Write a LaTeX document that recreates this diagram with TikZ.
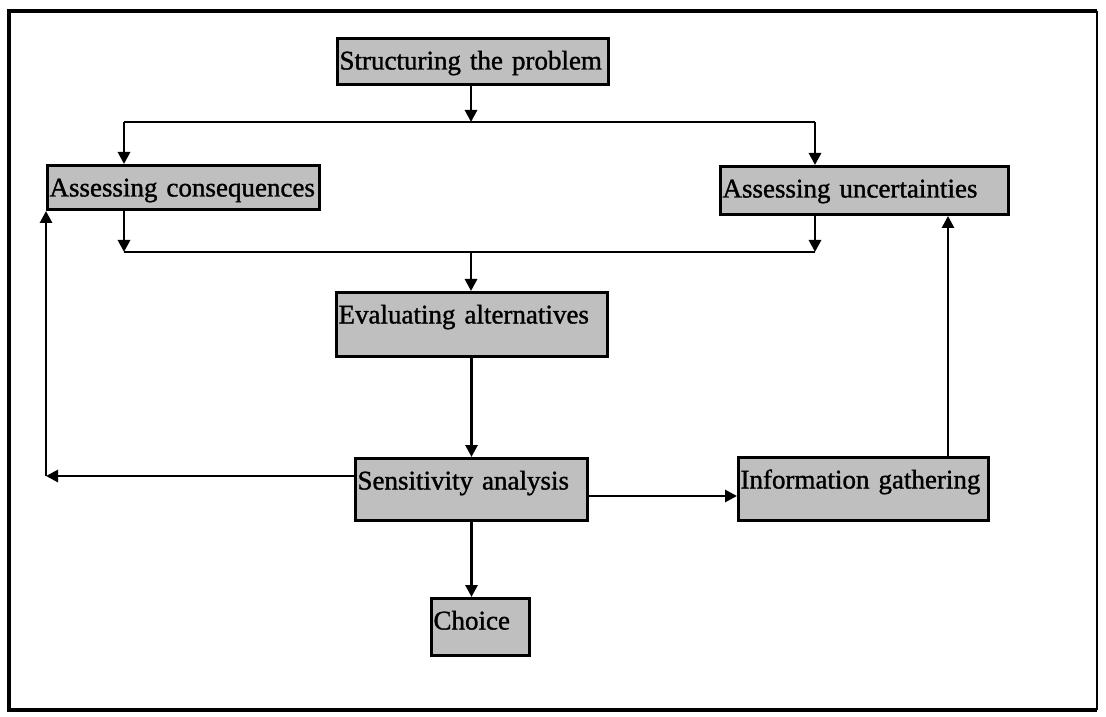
\documentclass[tikz,border=0pt]{standalone}
\usepackage{fontspec}
\setmainfont{Liberation Serif}
\newfontfamily\boxfont{Liberation Serif}[FakeBold=1.2]
\usetikzlibrary{arrows.meta}

\begin{document}
\begin{tikzpicture}[x=0.5pt,y=-0.5pt,
  box/.style={draw,line width=1.5pt,fill=gray!50,anchor=north west,align=left,
    inner xsep=1pt,inner ysep=2pt,text height=13.5pt,font=\fontsize{13.5}{15}\boxfont},
  arr/.style={line width=1.4pt,-{Triangle[length=6pt,width=6pt]}}]
\useasboundingbox (0,0) rectangle (1106,716);
\draw[line width=1.8pt] (1097,11) -- (9,11) -- (9,710) -- (1097,710);
\draw[line width=1pt] (1097,11) -- (1097,710);

\node[box,text width=133.5pt,text depth=5.5pt] (sp) at (336,37) {Structuring the problem};
\node[box,text width=134pt,text depth=4.5pt] (ac) at (46,164) {Assessing consequences};
\node[box,text width=142pt,text depth=6.5pt] (au) at (719,165) {Assessing uncertainties};
\node[box,text width=133.5pt,text depth=14.5pt] (ea) at (335,291) {Evaluating alternatives};
\node[box,text width=114pt,text depth=13.5pt] (sa) at (354,457) {Sensitivity analysis};
\node[box,text width=123pt,text depth=14pt] (ig) at (737,456) {Information gathering};
\node[box,text width=47pt,text depth=11pt] (ch) at (430,597) {Choice};

\coordinate (split) at (471,122);
\coordinate (sl) at (124,122);
\coordinate (sr) at (815,122);
\coordinate (join) at (471,252);
\coordinate (jl) at (124,252);
\coordinate (jr) at (815,252);
\coordinate (back) at (46,476);
\coordinate (side) at (660,496);
\coordinate (up) at (948,300);

\draw[arr] (sp.south -| split) -- (split);
\draw[line width=1.4pt] (sl) -- (sr);
\draw[arr] (sl) -- (ac.north -| sl);
\draw[arr] (sr) -- (au.north -| sr);
\draw[arr] (ac.south -| jl) -- (jl);
\draw[arr] (au.south -| jr) -- (jr);
\draw[line width=1.4pt] (jl) -- (jr);
\draw[arr] (join) -- (ea.north -| join);
\draw[arr] (ea.south -| sa.north) -- (sa.north);
\draw[arr] (sa.west |- back) -- (back);
\draw[arr] (back) -- (back |- ac.south);
\draw[arr] (sa.east |- side) -- (ig.west |- side);
\draw[arr] (ig.north -| up) -- (au.south -| up);
\draw[arr] (sa.south) -- (sa.south |- ch.north);
\end{tikzpicture}
\end{document}
